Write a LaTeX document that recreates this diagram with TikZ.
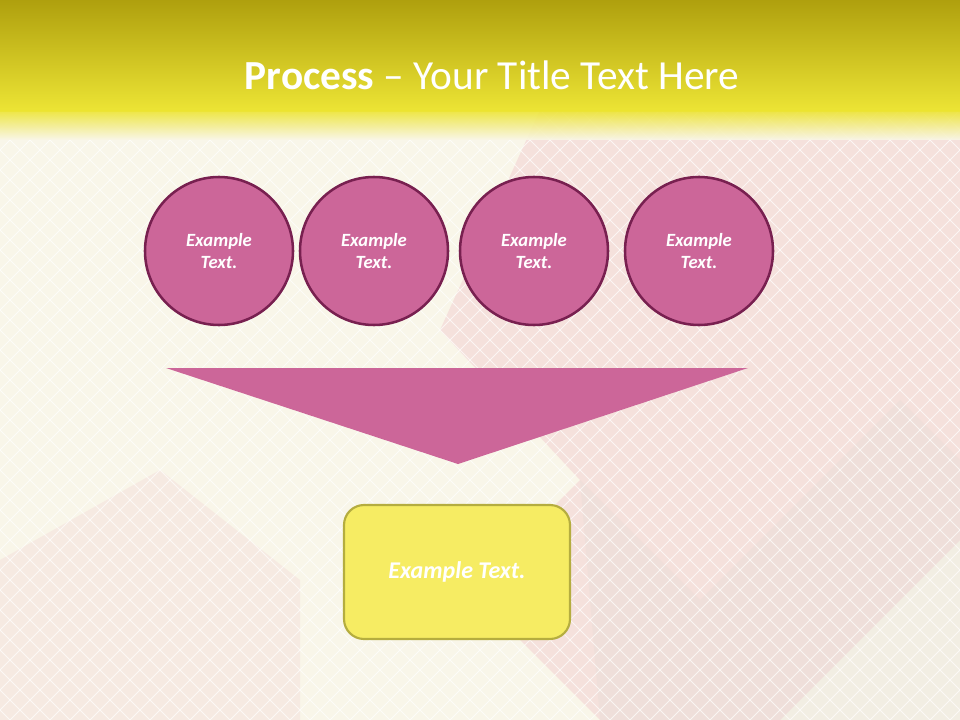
\documentclass[tikz,border=0pt]{standalone}
\usepackage{fontspec}
\setmainfont{Carlito}
\definecolor{bgcream}{HTML}{F9F6E9}
\definecolor{bgpink}{HTML}{F2D0D2}
\definecolor{bggrey}{HTML}{E3DCD6}
\definecolor{titletop}{HTML}{AFA00E}
\definecolor{titlebot}{HTML}{EDE535}
\definecolor{circfill}{HTML}{CC6699}
\definecolor{circline}{HTML}{782050}
\definecolor{boxfill}{HTML}{F6EC63}
\definecolor{boxline}{HTML}{B5AD3F}
\tikzset{
  stepcirc/.style={circle, minimum size=148*0.75pt, inner sep=0pt, fill=circfill, draw=circline, line width=1.9pt, text=white, font=\fontsize{14}{17}\selectfont\bfseries\itshape, align=center},
  resultbox/.style={rectangle, rounded corners=15pt, minimum width=226*0.75pt, minimum height=134*0.75pt, fill=boxfill, draw=boxline, line width=1.6pt, text=white, font=\fontsize{18}{21}\selectfont\bfseries\itshape},
  funnel/.style={fill=circfill, draw=none},
  titletext/.style={text=white, font=\fontsize{31}{36}\selectfont}
}
\begin{document}
\begin{tikzpicture}[x=0.75pt, y=-0.75pt]
\useasboundingbox (0,0) rectangle (960,720);
% background
\fill[bgcream] (0,0) rectangle (960,720);
\fill[bgpink, opacity=0.55] (540,110) -- (960,110) -- (960,540) -- (780,720) -- (600,720) -- (470,590) -- (580,480) -- (440,330) -- cycle;
\fill[bgpink, opacity=0.3] (0,560) -- (160,470) -- (300,580) -- (300,720) -- (0,720) -- cycle;
\fill[bggrey, opacity=0.3] (580,480) -- (700,600) -- (900,400) -- (960,460) -- (960,720) -- (600,720) -- cycle;
\begin{scope}
\clip (0,110) rectangle (960,720);
\foreach \k in {-40,-20,...,1700} {
  \draw[white, line width=0.6pt, opacity=0.7] (\k,110) -- (\k-620,730);
  \draw[white, line width=0.6pt, opacity=0.7] (\k-720,110) -- (\k-100,730);
}
\end{scope}
% title band
\shade[top color=titletop, bottom color=titlebot] (0,0) rectangle (960,112);
\shade[top color=titlebot, bottom color=bgcream, opacity=0.9] (0,111) rectangle (960,140);
\node[titletext] (title) at (492,75) {\textbf{Process} – Your Title Text Here};
% circles
\node[stepcirc] (c1) at (219,251) {Example\\Text.};
\node[stepcirc] (c2) at (374,251) {Example\\Text.};
\node[stepcirc] (c3) at (534,251) {Example\\Text.};
\node[stepcirc] (c4) at (699,251) {Example\\Text.};
% funnel
\coordinate (fl) at (166,368);
\coordinate (fr) at (748,368);
\coordinate (fa) at (458,464);
\fill[funnel] (fl) -- (fr) -- (fa) -- cycle;
% result box
\node[resultbox] (res) at (457,572) {Example Text.};
\end{tikzpicture}
\end{document}
